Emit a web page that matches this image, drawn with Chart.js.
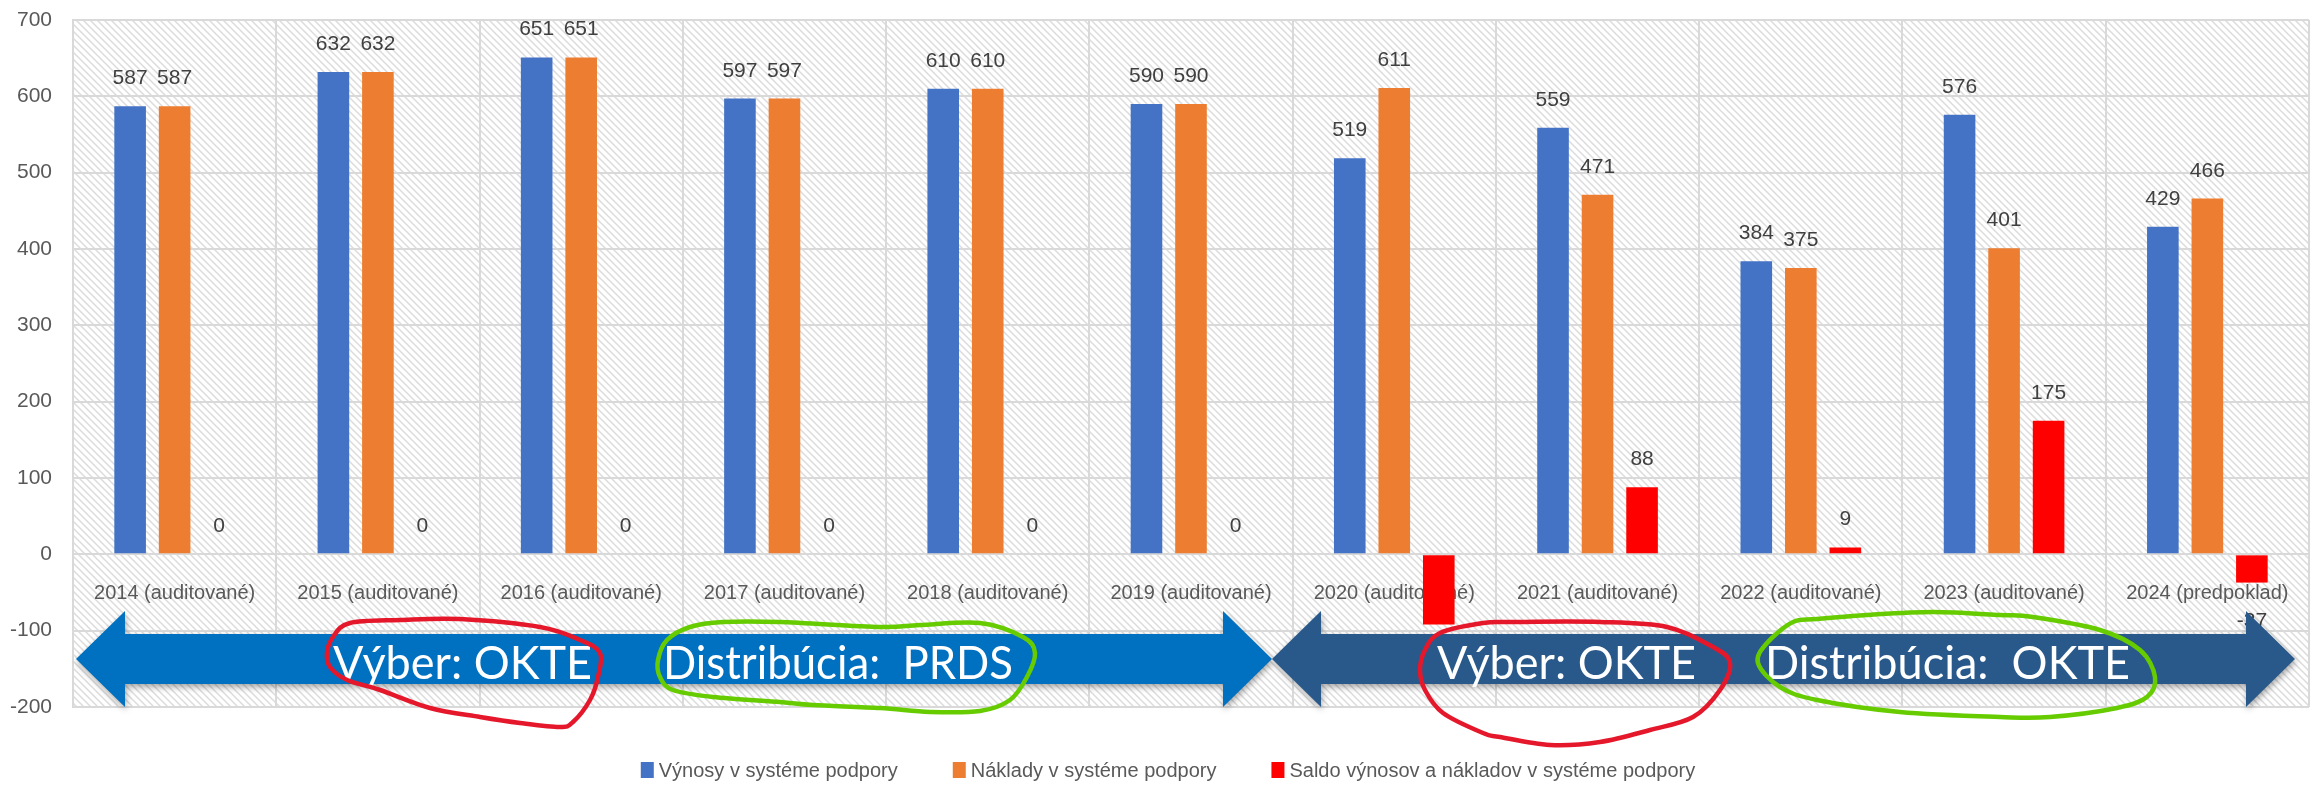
<!DOCTYPE html>
<html lang="sk">
<head>
<meta charset="utf-8">
<title>Výnosy a náklady v systéme podpory</title>
<script src="https://cdn.jsdelivr.net/npm/chart.js@4.4.1/dist/chart.umd.min.js"></script>
<style>
  html, body { margin: 0; padding: 0; background: #fff; }
  #wrap { position: relative; width: 2318px; height: 785px; }
</style>
</head>
<body>
<div id="wrap"><canvas id="chart"></canvas></div>
<script>
/* ── Data ─────────────────────────────────────────────────────────── */

var categories = [
  '2014 (auditované)', '2015 (auditované)', '2016 (auditované)',
  '2017 (auditované)', '2018 (auditované)', '2019 (auditované)',
  '2020 (auditované)', '2021 (auditované)', '2022 (auditované)',
  '2023 (auditované)', '2024 (predpoklad)'
];
var vynosy  = [587, 632, 651, 597, 610, 590, 519, 559, 384, 576, 429];
var naklady = [587, 632, 651, 597, 610, 590, 611, 471, 375, 401, 466];
var saldo   = [0, 0, 0, 0, 0, 0, -92, 88, 9, 175, -37];
var seriesNames = [
  'Výnosy v systéme podpory',
  'Náklady v systéme podpory',
  'Saldo výnosov a nákladov v systéme podpory'
];
var yTickValues = [-200, -100, 0, 100, 200, 300, 400, 500, 600, 700];

/* Hand-made overlay: two arrows with captions and the circled marks */
var arrowLabels = [
  ['Výber: OKTE', 'Distribúcia:  PRDS'],
  ['Výber: OKTE', 'Distribúcia:  OKTE']
];

(function () {
  'use strict';

  var FONT = "'Liberation Sans', Arial, sans-serif";
  var ARROW_FONT = "Lato, 'Open Sans', sans-serif";
  var TEXT_COLOR = '#595959';
  var LABEL_COLOR = '#404040';
  var GRID_COLOR = '#D9D9D9';
  var SERIES_COLORS = ['#4472C4', '#ED7D31', '#FF0000'];

  /* arrow geometry (pixels) */
  var ARROWS = [
    { from: 76, to: 1272, color: '#0070C0', textX: [333, 663], textW: [259, 350] },
    { from: 1272, to: 2295, color: '#29598A', textX: [1437, 1765], textW: [259, 365] }
  ];
  var ARROW_CY = 659, HEAD_HALF = 48, SHAFT_HALF = 25, HEAD_LEN = 49;

  var LOOPS = [
    { color: '#E5182B', pts: [[350, 623], [400, 620], [460, 619], [540, 627], [580, 640], [600, 653], [598, 677],
      [590, 700], [573, 722], [560, 727], [520, 723], [480, 717], [430, 708], [380, 690], [347, 680],
      [330, 667], [327, 653], [333, 637]] },
    { color: '#66CC00', pts: [[667, 640], [690, 627], [723, 622], [780, 622], [880, 627], [920, 625], [980, 623],
      [1023, 637], [1035, 653], [1027, 677], [1010, 700], [980, 711], [930, 712], [880, 708], [813, 705],
      [780, 702], [713, 697], [673, 690], [660, 677], [658, 660]] },
    { color: '#E5182B', pts: [[1425, 650], [1440, 633], [1483, 623], [1513, 622], [1600, 622], [1667, 627],
      [1713, 647], [1730, 663], [1720, 690], [1693, 717], [1650, 730], [1600, 742], [1550, 745],
      [1500, 737], [1483, 733], [1443, 713], [1425, 690], [1420, 670]] },
    { color: '#66CC00', pts: [[1767, 643], [1793, 622], [1817, 619], [1867, 615], [1933, 612], [2000, 615],
      [2033, 617], [2100, 630], [2140, 650], [2155, 677], [2147, 697], [2117, 708], [2050, 717],
      [2000, 717], [1900, 712], [1817, 700], [1780, 687], [1758, 663]] }
  ];

  /* ── Helpers ─────────────────────────────────────────────────────── */

  function hatchPattern(ctx) {
    var s = 7;
    var c = document.createElement('canvas');
    c.width = s; c.height = s;
    var g = c.getContext('2d');
    g.fillStyle = '#FFFFFF';
    g.fillRect(0, 0, s, s);
    g.strokeStyle = '#DCDCDC';
    g.lineWidth = 1.5;
    g.beginPath();
    g.moveTo(-1, -1); g.lineTo(s + 1, s + 1);
    g.moveTo(-1, s - 1); g.lineTo(1, s + 1);
    g.moveTo(s - 1, -1); g.lineTo(s + 1, 1);
    g.stroke();
    return ctx.createPattern(c, 'repeat');
  }

  function drawArrow(ctx, x0, x1, cy) {
    ctx.beginPath();
    ctx.moveTo(x0, cy);
    ctx.lineTo(x0 + HEAD_LEN, cy - HEAD_HALF);
    ctx.lineTo(x0 + HEAD_LEN, cy - SHAFT_HALF);
    ctx.lineTo(x1 - HEAD_LEN, cy - SHAFT_HALF);
    ctx.lineTo(x1 - HEAD_LEN, cy - HEAD_HALF);
    ctx.lineTo(x1, cy);
    ctx.lineTo(x1 - HEAD_LEN, cy + HEAD_HALF);
    ctx.lineTo(x1 - HEAD_LEN, cy + SHAFT_HALF);
    ctx.lineTo(x0 + HEAD_LEN, cy + SHAFT_HALF);
    ctx.lineTo(x0 + HEAD_LEN, cy + HEAD_HALF);
    ctx.closePath();
    ctx.fill();
  }

  function closedCurve(ctx, pts) {
    var n = pts.length;
    ctx.beginPath();
    ctx.moveTo(pts[0][0], pts[0][1]);
    for (var i = 0; i < n; i++) {
      var p0 = pts[(i - 1 + n) % n], p1 = pts[i], p2 = pts[(i + 1) % n], p3 = pts[(i + 2) % n];
      ctx.bezierCurveTo(
        p1[0] + (p2[0] - p0[0]) / 6, p1[1] + (p2[1] - p0[1]) / 6,
        p2[0] - (p3[0] - p1[0]) / 6, p2[1] - (p3[1] - p1[1]) / 6,
        p2[0], p2[1]);
    }
    ctx.stroke();
  }

  /* ── Plugins ─────────────────────────────────────────────────────── */

  var hatchBackground = {
    id: 'hatchBackground',
    beforeDraw: function (chart) {
      var a = chart.chartArea, ctx = chart.ctx;
      ctx.save();
      ctx.fillStyle = hatchPattern(ctx);
      ctx.fillRect(a.left, a.top, a.right - a.left, a.bottom - a.top);
      ctx.restore();
    }
  };

  var valueLabels = {
    id: 'valueLabels',
    afterDatasetsDraw: function (chart) {
      var ctx = chart.ctx;
      ctx.save();
      ctx.font = '21px ' + FONT;
      ctx.fillStyle = LABEL_COLOR;
      ctx.textAlign = 'center';
      chart.data.datasets.forEach(function (ds, i) {
        chart.getDatasetMeta(i).data.forEach(function (bar, j) {
          var v = ds.data[j];
          if (v < 0) {
            ctx.textBaseline = 'top';
            ctx.fillText(String(v), bar.x, bar.y + 28);
          } else {
            ctx.textBaseline = 'alphabetic';
            ctx.fillText(String(v), bar.x, bar.y - 22);
          }
        });
      });
      ctx.restore();
    }
  };

  var overlay = {
    id: 'overlay',
    afterDraw: function (chart) {
      var ctx = chart.ctx;
      ctx.save();
      ARROWS.forEach(function (a) {
        ctx.save();
        ctx.shadowColor = 'rgba(0, 0, 0, 0.35)';
        ctx.shadowBlur = 6;
        ctx.shadowOffsetX = 1;
        ctx.shadowOffsetY = 3;
        ctx.fillStyle = a.color;
        drawArrow(ctx, a.from, a.to, ARROW_CY);
        ctx.restore();
      });
      ctx.font = '47px ' + ARROW_FONT;
      ctx.fillStyle = '#FFFFFF';
      ctx.textAlign = 'left';
      ctx.textBaseline = 'alphabetic';
      ARROWS.forEach(function (a, i) {
        arrowLabels[i].forEach(function (t, k) {
          ctx.fillText(t, a.textX[k], 679, a.textW[k]);
        });
      });
      ctx.lineWidth = 4.5;
      ctx.lineJoin = 'round';
      LOOPS.forEach(function (l) {
        ctx.strokeStyle = l.color;
        closedCurve(ctx, l.pts);
      });

      /* legend */
      ctx.font = '20px ' + FONT;
      ctx.textBaseline = 'alphabetic';
      var box = 13, gap = 5, itemGap = 55;
      var widths = seriesNames.map(function (t) { return ctx.measureText(t).width; });
      var total = itemGap * (widths.length - 1);
      widths.forEach(function (w) { total += box + gap + w; });
      var x = 1168 - total / 2;
      seriesNames.forEach(function (t, i) {
        ctx.fillStyle = SERIES_COLORS[i];
        ctx.fillRect(x, 762, box, 16);
        ctx.fillStyle = TEXT_COLOR;
        ctx.fillText(t, x + box + gap, 777);
        x += box + gap + widths[i] + itemGap;
      });
      ctx.restore();
    }
  };

  /* ── Chart ───────────────────────────────────────────────────────── */

  var datasets = [vynosy, naklady, saldo].map(function (values, i) {
    return {
      label: seriesNames[i],
      data: values,
      backgroundColor: SERIES_COLORS[i],
      borderWidth: 0,
      categoryPercentage: 0.657,
      barPercentage: 0.71
    };
  });

  new Chart(document.getElementById('chart'), {
    type: 'bar',
    data: { labels: categories, datasets: datasets },
    options: {
      responsive: true,
      maintainAspectRatio: false,
      animation: false,
      layout: { padding: { left: 0, top: 20, right: 9, bottom: 78 } },
      plugins: {
        legend: { display: false },
        tooltip: { enabled: false }
      },
      scales: {
        x: {
          position: { y: 0 },
          grid: { color: GRID_COLOR, lineWidth: 2, drawTicks: false, offset: true },
          border: { display: false },
          ticks: {
            font: { family: FONT, size: 20 },
            color: TEXT_COLOR,
            padding: 27,
            maxRotation: 0,
            autoSkip: false
          }
        },
        y: {
          min: yTickValues[0],
          max: yTickValues[yTickValues.length - 1],
          afterFit: function (s) {
            /* fixed axis width; tick padding must not push the plot down */
            s.width = 73;
            s.paddingTop = 0;
            s.paddingBottom = 0;
          },
          grid: { color: GRID_COLOR, lineWidth: 2, drawTicks: false },
          border: { display: true, color: GRID_COLOR, width: 2 },
          ticks: {
            stepSize: yTickValues[1] - yTickValues[0],
            font: { family: FONT, size: 21 },
            color: TEXT_COLOR,
            padding: 21
          }
        }
      }
    },
    plugins: [hatchBackground, valueLabels, overlay]
  });
})();
</script>
</body>
</html>
